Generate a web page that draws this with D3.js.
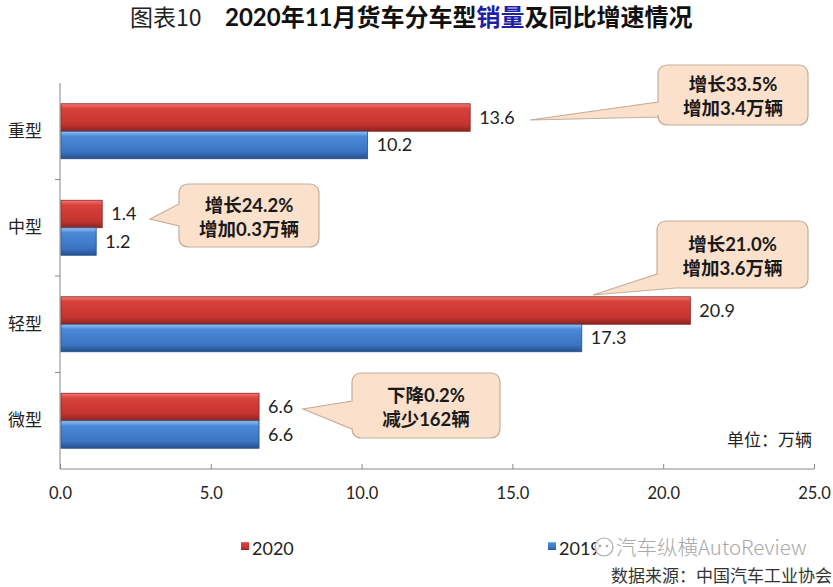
<!DOCTYPE html>
<html>
<head>
<meta charset="utf-8">
<script src="https://cdn.jsdelivr.net/npm/d3@7/dist/d3.min.js"></script>
<style>
  body { margin: 0; background: #fff; }
  svg { display: block; }
</style>
</head>
<body>
<div id="chart"></div>
<script>
// data
const categories = ["重型", "中型", "轻型", "微型"];
const seriesNames = ["2020", "2019"];
const values2020 = [13.6, 1.4, 20.9, 6.6];
const values2019 = [10.2, 1.2, 17.3, 6.6];
const xTicks = [0, 5, 10, 15, 20, 25];
const notes = [
  ["增长33.5%", "增加3.4万辆"],
  ["增长24.2%", "增加0.3万辆"],
  ["增长21.0%", "增加3.6万辆"],
  ["下降0.2%", "减少162辆"]
];

const W = 833, H = 587;
const latin = "Lato, 'Noto Sans CJK SC', sans-serif";
const cjk = "'Noto Sans CJK SC', sans-serif";

const svg = d3.select("#chart").append("svg")
  .attr("width", W).attr("height", H);

// gradients for the bevelled bars
const defs = svg.append("defs");
function grad(id, stops) {
  const g = defs.append("linearGradient").attr("id", id)
    .attr("x1", 0).attr("y1", 0).attr("x2", 0).attr("y2", 1);
  stops.forEach(s => g.append("stop").attr("offset", s[0]).attr("stop-color", s[1]));
}
grad("g2020", [[0, "#f07a72"], [0.18, "#d9403a"], [0.75, "#c43530"], [1, "#8a2320"]]);
grad("g2019", [[0, "#9cc3f0"], [0.18, "#4a8ad6"], [0.75, "#3b74c2"], [1, "#25508c"]]);

const x = d3.scaleLinear().domain([0, 25]).range([60, 814]);
const y = d3.scaleBand().domain(categories).range([83, 469]);
const groupH = 55;
const y1 = d3.scaleBand().domain(seriesNames).range([0, groupH]);
const off = (y.bandwidth() - groupH) / 2;

// title
svg.append("text").attr("x", 130).attr("y", 26)
  .attr("font-family", cjk).attr("font-size", 23).attr("fill", "#222")
  .text("图表10");
const title = svg.append("text").attr("x", 225).attr("y", 26)
  .attr("font-family", latin).attr("font-size", 24).attr("font-weight", "bold").attr("fill", "#111");
title.append("tspan").text("2020年11月货车分车型");
title.append("tspan").attr("fill", "#1f1fa8").text("销量");
title.append("tspan").text("及同比增速情况");

// axes
const xAxis = svg.append("g").attr("transform", "translate(0,469)")
  .call(d3.axisBottom(x).tickValues(xTicks).tickSize(-5).tickPadding(18).tickFormat(d3.format(".1f")));
xAxis.select(".domain").attr("stroke", "#888").attr("d", "M60,0H814");
xAxis.selectAll(".tick line").attr("stroke", "#888");
xAxis.selectAll(".tick text").attr("font-family", latin).attr("font-size", 16.5).attr("fill", "#222");

const yAxis = svg.append("g").attr("transform", "translate(60,0)")
  .call(d3.axisLeft(y).tickSize(0).tickPadding(18));
yAxis.select(".domain").attr("stroke", "#888").attr("d", "M0,83V469");
yAxis.selectAll(".tick text").attr("font-family", cjk).attr("font-size", 17).attr("fill", "#222");
// category separators
svg.append("g").selectAll("line")
  .data(categories.slice(1)).join("line")
  .attr("x1", 55).attr("x2", 60)
  .attr("y1", d => y(d)).attr("y2", d => y(d))
  .attr("stroke", "#888");

// bars
const rows = categories.map((c, i) => ({ cat: c, vals: [values2020[i], values2019[i]] }));
const grp = svg.append("g").selectAll("g").data(rows).join("g")
  .attr("transform", d => `translate(0,${y(d.cat) + off})`);
grp.selectAll("rect").data(d => d.vals.map((v, j) => ({ v, s: seriesNames[j] })))
  .join("rect")
  .attr("x", x(0) + 1)
  .attr("y", d => y1(d.s))
  .attr("width", d => x(d.v) - x(0) - 1)
  .attr("height", y1.bandwidth())
  .attr("fill", d => `url(#g${d.s})`)
  .attr("stroke", d => d.s === "2020" ? "#8a2320" : "#25508c")
  .attr("stroke-width", 0.8);
grp.selectAll("text").data(d => d.vals.map((v, j) => ({ v, s: seriesNames[j] })))
  .join("text")
  .attr("x", d => x(d.v) + 9)
  .attr("y", d => y1(d.s) + y1.bandwidth() / 2 + 6)
  .attr("font-family", latin).attr("font-size", 18).attr("fill", "#222")
  .text(d => d.v.toFixed(1));

// callouts
function calloutPath(b) {
  const { x0, y0, w, h, r, side, b1, b2, tip } = b;
  const x1 = x0 + w, y2 = y0 + h;
  let p = `M${x0 + r},${y0}H${x1 - r}Q${x1},${y0} ${x1},${y0 + r}V${y2 - r}Q${x1},${y2} ${x1 - r},${y2}`;
  if (side === "corner") {
    p += `H${b2}L${tip[0]},${tip[1]}L${x0},${b1}V${y0 + r}`;
  } else {
    p += `H${x0 + r}Q${x0},${y2} ${x0},${y2 - r}V${b2}L${tip[0]},${tip[1]}L${x0},${b1}V${y0 + r}`;
  }
  p += `Q${x0},${y0} ${x0 + r},${y0}Z`;
  return p;
}
const boxes = [
  { x0: 658, y0: 65, w: 150, h: 60, r: 10, side: "left", b1: 102, b2: 117, tip: [530, 120] },
  { x0: 179, y0: 184, w: 140, h: 63, r: 10, side: "left", b1: 204, b2: 226, tip: [150, 219] },
  { x0: 657, y0: 221, w: 151, h: 67, r: 10, side: "corner", b1: 274, b2: 676, tip: [593, 295] },
  { x0: 352, y0: 373, w: 148, h: 65, r: 10, side: "left", b1: 401, b2: 429, tip: [303, 409] }
];
const co = svg.append("g").selectAll("g").data(boxes).join("g");
co.append("path").attr("d", calloutPath)
  .attr("fill", "#fbe1cc").attr("stroke", "#c7ad98").attr("stroke-width", 1.2);
co.each(function (b, i) {
  const t = d3.select(this).append("text")
    .attr("font-family", latin).attr("font-size", 18.5).attr("font-weight", "bold")
    .attr("fill", "#1a1a1a").attr("text-anchor", "middle");
  notes[i].forEach((line, k) => {
    t.append("tspan").attr("x", b.x0 + b.w / 2)
      .attr("y", b.y0 + b.h / 2 - 4 + k * 24)
      .text(line);
  });
});

// unit
svg.append("text").attr("x", 812).attr("y", 446).attr("text-anchor", "end")
  .attr("font-family", cjk).attr("font-size", 17).attr("fill", "#222")
  .text("单位：万辆");

// legend
const legend = svg.append("g").selectAll("g").data(seriesNames).join("g")
  .attr("transform", (d, i) => `translate(${[241, 548][i]},0)`);
legend.append("rect").attr("x", 0).attr("y", 542).attr("width", 8).attr("height", 8)
  .attr("fill", d => `url(#g${d})`);
legend.append("text").attr("x", 11).attr("y", 555)
  .attr("font-family", latin).attr("font-size", 18).attr("fill", "#222")
  .text(d => d);

// watermark + source
const wm = svg.append("g");
wm.append("circle").attr("cx", 604).attr("cy", 547).attr("r", 9)
  .attr("fill", "#fff").attr("fill-opacity", 0.85).attr("stroke", "#aaa").attr("stroke-width", 1.2);
wm.append("circle").attr("cx", 600).attr("cy", 546).attr("r", 1.3).attr("fill", "#aaa");
wm.append("circle").attr("cx", 607).attr("cy", 546).attr("r", 1.3).attr("fill", "#aaa");
wm.append("text").attr("x", 616).attr("y", 555)
  .attr("font-family", "'Noto Sans CJK SC', sans-serif").attr("font-size", 20.5)
  .attr("font-weight", 300).attr("fill", "#a8a8a8")
  .text("汽车纵横AutoReview");
svg.append("text").attr("x", 832).attr("y", 582).attr("text-anchor", "end")
  .attr("font-family", cjk).attr("font-size", 17).attr("fill", "#333")
  .text("数据来源：中国汽车工业协会");
</script>
</body>
</html>
